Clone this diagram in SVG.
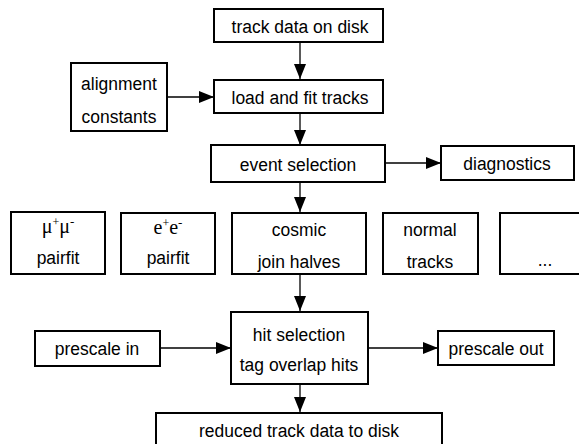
<svg xmlns="http://www.w3.org/2000/svg" width="579" height="444" viewBox="0 0 579 444">
<style>
.b{fill:#fff;stroke:#000;stroke-width:2}
.t{font-family:"Liberation Sans",Arial,sans-serif;font-size:19px;text-anchor:middle;fill:#000}
.s{font-family:"Liberation Serif","Times New Roman",serif;font-size:20px;text-anchor:middle;fill:#000}
.c{stroke:#000;stroke-width:1.3;fill:none}
</style>
<defs>
<marker id="a" markerUnits="userSpaceOnUse" markerWidth="16" markerHeight="12" refX="15" refY="6" orient="auto">
<path d="M0,0 L15,6 L0,12 Z" fill="#000"/>
</marker>
</defs>
<rect width="579" height="444" fill="#fff"/>
<g id="connectors">
<line class="c" x1="300" y1="42" x2="300" y2="79" marker-end="url(#a)"/>
<line class="c" x1="167" y1="97" x2="214" y2="97" marker-end="url(#a)"/>
<line class="c" x1="300" y1="113" x2="300" y2="145" marker-end="url(#a)"/>
<line class="c" x1="385" y1="163" x2="441" y2="163" marker-end="url(#a)"/>
<line class="c" x1="300" y1="182" x2="300" y2="212" marker-end="url(#a)"/>
<line class="c" x1="300" y1="274" x2="300" y2="311" marker-end="url(#a)"/>
<line class="c" x1="160" y1="348" x2="231" y2="348" marker-end="url(#a)"/>
<line class="c" x1="368" y1="348" x2="438" y2="348" marker-end="url(#a)"/>
<line class="c" x1="300" y1="384" x2="300" y2="412" marker-end="url(#a)"/>
</g>
<g id="track-data"><rect class="b" x="214" y="9" width="169" height="33"/><text class="t" transform="translate(300,33) scale(0.92,1)">track data on disk</text></g>
<g id="alignment"><rect class="b" x="71" y="63" width="96" height="68"/><text class="t" transform="translate(119,90) scale(0.92,1)">alignment</text><text class="t" transform="translate(119,123) scale(0.92,1)">constants</text></g>
<g id="load-fit"><rect class="b" x="214" y="80" width="169" height="33"/><text class="t" transform="translate(300,104) scale(0.92,1)">load and fit tracks</text></g>
<g id="event-selection"><rect class="b" x="211" y="145" width="174" height="37"/><text class="t" transform="translate(298,171) scale(0.92,1)">event selection</text></g>
<g id="diagnostics"><rect class="b" x="441" y="146" width="133" height="34"/><text class="t" transform="translate(507,170) scale(0.92,1)">diagnostics</text></g>
<g id="mumu"><rect class="b" x="11" y="212" width="94" height="62"/><text class="s" x="58" y="233">μ<tspan dy="-7" font-size="12">+</tspan><tspan dy="7">μ</tspan><tspan dy="-7" font-size="13">-</tspan></text><text class="t" transform="translate(58,264) scale(0.92,1)">pairfit</text></g>
<g id="ee"><rect class="b" x="121" y="213" width="94" height="61"/><text class="s" x="168" y="234">e<tspan dy="-7" font-size="12">+</tspan><tspan dy="7">e</tspan><tspan dy="-7" font-size="13">-</tspan></text><text class="t" transform="translate(168,264) scale(0.92,1)">pairfit</text></g>
<g id="cosmic"><rect class="b" x="232" y="213" width="134" height="61"/><text class="t" transform="translate(299,236) scale(0.92,1)">cosmic</text><text class="t" transform="translate(299,268) scale(0.92,1)">join halves</text></g>
<g id="normal"><rect class="b" x="383" y="213" width="95" height="61"/><text class="t" transform="translate(430,236) scale(0.92,1)">normal</text><text class="t" transform="translate(430,268) scale(0.92,1)">tracks</text></g>
<g id="more"><rect class="b" x="500" y="213" width="90" height="61"/><text class="t" transform="translate(545,266) scale(0.92,1)">...</text></g>
<g id="hit-selection"><rect class="b" x="231" y="312" width="137" height="72"/><text class="t" transform="translate(299,341) scale(0.92,1)">hit selection</text><text class="t" transform="translate(299,371) scale(0.92,1)">tag overlap hits</text></g>
<g id="prescale-in"><rect class="b" x="35" y="331" width="125" height="35"/><text class="t" transform="translate(97,355) scale(0.92,1)">prescale in</text></g>
<g id="prescale-out"><rect class="b" x="438" y="331" width="116" height="34"/><text class="t" transform="translate(496,355) scale(0.92,1)">prescale out</text></g>
<g id="reduced"><rect class="b" x="156" y="413" width="286" height="40"/><text class="t" transform="translate(299,437) scale(0.92,1)">reduced track data to disk</text></g>
</svg>
